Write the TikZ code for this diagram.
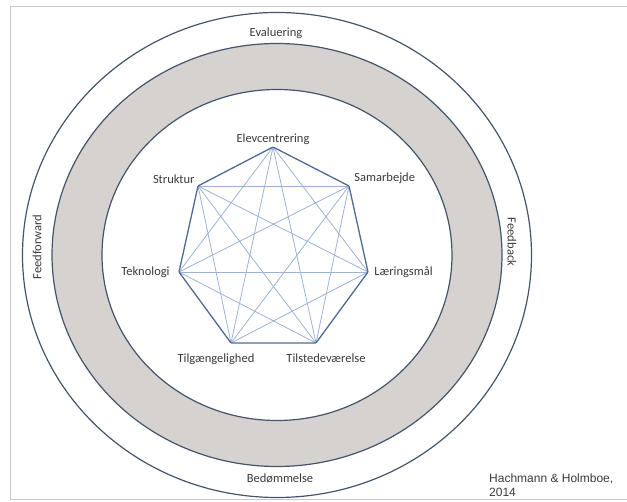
\documentclass[tikz,border=0pt]{standalone}
\usepackage{fontspec}
\setmainfont{Carlito}
\newfontfamily\citefont{Liberation Sans}
\usetikzlibrary{positioning}

\definecolor{ringline}{HTML}{44546A}
\definecolor{ringgrey}{HTML}{D5D2D0}
\definecolor{sideline}{HTML}{4F6A95}
\definecolor{diagline}{HTML}{9CB2D6}
\definecolor{txtgrey}{HTML}{3A3A3A}

\tikzset{
  vert/.style={inner sep=0pt, minimum size=0pt},
  lbl/.style={inner sep=1pt, font=\fontsize{12.5}{14}\selectfont, text=txtgrey},
  ring/.style={draw=ringline, line width=1.2pt},
  side/.style={draw=sideline, line width=1.3pt},
  diag/.style={draw=diagline, line width=0.8pt},
}

\begin{document}
\begin{tikzpicture}[x=1pt,y=-1pt]
\useasboundingbox (0,0) rectangle (627,502);
\draw[black!22, line width=1pt] (10.5,6.5) rectangle (640,499.5);

% rings
\coordinate (c) at (277,255);
\fill[ringgrey, even odd rule] (c) ellipse [x radius=225, y radius=211.5]
  (c) ellipse [x radius=175, y radius=165.5];
\draw[ring] (c) ellipse [x radius=254.5, y radius=242.5];
\draw[ring] (c) ellipse [x radius=225, y radius=211.5];
\draw[ring] (c) ellipse [x radius=175, y radius=165.5];

\node[lbl] at (276,33) (ev) {Evaluering};
\node[lbl] at (280,478) (bd) {Bedømmelse};
\node[lbl, rotate=90] at (37,247) (ff) {Feedforward};
\node[lbl, rotate=-90] at (512,242) (fb) {Feedback};

% heptagon
\node[vert] at (273,147) (e) {};
\node[vert] at (198,186) (s) {};
\node[vert] at (349,186) (sa) {};
\node[vert] at (179,272) (t) {};
\node[vert] at (368,272) (l) {};
\node[vert] at (231,343) (tg) {};
\node[vert] at (316,343) (ts) {};

\draw[diag] (e) -- (t);
\draw[diag] (e) -- (l);
\draw[diag] (e) -- (tg);
\draw[diag] (e) -- (ts);
\draw[diag] (s) -- (sa);
\draw[diag] (s) -- (l);
\draw[diag] (s) -- (tg);
\draw[diag] (s) -- (ts);
\draw[diag] (sa) -- (t);
\draw[diag] (sa) -- (tg);
\draw[diag] (sa) -- (ts);
\draw[diag] (t) -- (l);
\draw[diag] (t) -- (ts);
\draw[diag] (l) -- (tg);

\draw[side] (e) -- (sa) -- (l) -- (ts) -- (tg) -- (t) -- (s) -- (e);

\node[lbl, above=1pt of e] (e-l) {Elevcentrering};
\node[lbl, above left=1pt and 2pt of s] (s-l) {Struktur};
\node[lbl, above right=1pt and 4pt of sa] (sa-l) {Samarbejde};
\node[lbl, left=8pt of t] (t-l) {Teknologi};
\node[lbl, right=5pt of l] (l-l) {Læringsmål};
\node[lbl, below=9pt of tg, xshift=-15pt] (tg-l) {Tilgængelighed};
\node[lbl, below=9pt of ts, xshift=10pt] (ts-l) {Tilstedeværelse};

\node[anchor=north west, align=left, inner sep=0pt, text=txtgrey,
  font=\citefont\fontsize{12}{14}\selectfont] at (489,474) (ref)
  {Hachmann \& Holmboe,\\2014};
\end{tikzpicture}
\end{document}
